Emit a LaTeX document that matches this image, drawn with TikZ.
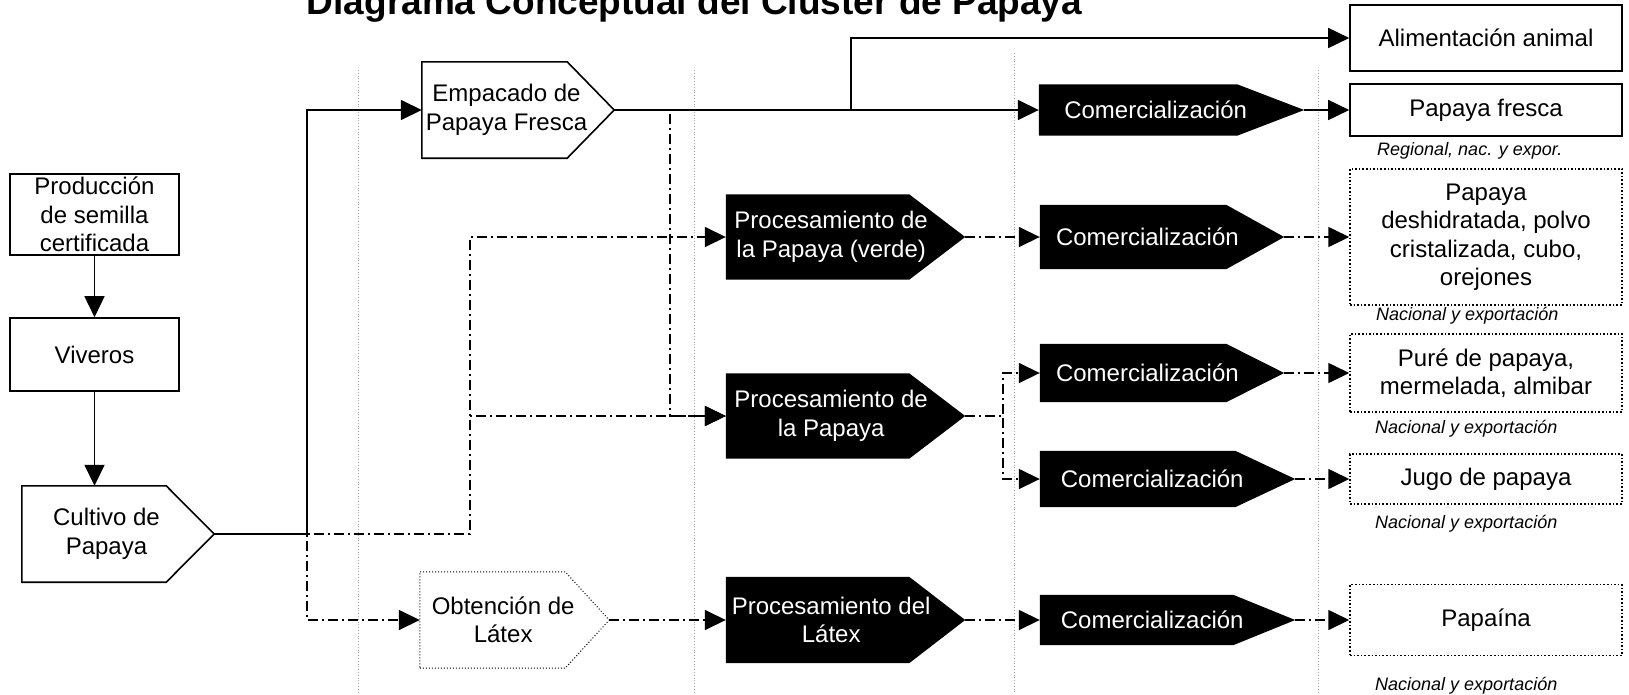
\documentclass[tikz,border=0pt]{standalone}
\usepackage{fontspec}
\setmainfont{Liberation Sans}
\usetikzlibrary{arrows.meta, backgrounds}

\begin{document}
\begin{tikzpicture}[
    x=1pt, y=-1pt,
    font=\fontsize{24}{28.5}\selectfont,
    texto/.style={align=center, inner sep=0pt},
    caja/.style={draw, line width=1.6pt, fill=white, align=center, inner sep=0pt},
    cajap/.style={caja, dotted, line width=1.5pt},
    flecha/.style n args={3}{minimum width=#1, minimum height=#2, inner sep=0pt,
                  label={[texto, xshift={-0.06*#1}]center:{#3}}},
    flechan/.style n args={3}{minimum width=#1, minimum height=#2, inner sep=0pt,
                  label={[texto, text=white, xshift={-0.06*#1}]center:{#3}}},
    blanca/.style={draw, line width=1.6pt, fill=white},
    punteada/.style={draw, dotted, line width=1pt, fill=white},
    negra/.style={fill=black},
    nota/.style={font=\fontsize{18}{20}\selectfont\itshape, anchor=base west, inner sep=0pt},
    carril/.style={dotted, gray!70, line width=0.8pt},
    flujo/.style={-{Triangle[length=21pt, width=20pt]}, line width=1.6pt},
    flujod/.style={flujo, dash pattern=on 10pt off 4pt on 2pt off 4pt}
  ]
    \useasboundingbox (0,0) rectangle (1629,694);

    \node[font=\fontsize{37}{40}\selectfont\bfseries, anchor=base] (titulo) at (694.5,14)
      {Diagrama Conceptual del Cluster de Papaya};

    % carriles
    \foreach \x/\y in {358/70, 694/70, 1014/53, 1318/70}
      \draw[carril] (\x,\y) -- (\x,694);

    % columna izquierda
    \node[caja, minimum width=169, minimum height=81] (prod) at (94.5,214.5)
      {Producción\\de semilla\\certificada};
    \node[caja, minimum width=169, minimum height=73] (viv) at (94.5,354.5) {Viveros};
    \node[flecha={192}{96}{Cultivo de\\Papaya}] (cult) at (118,534) {};

    \node[flecha={192}{96}{Empacado de\\Papaya Fresca}] (emp) at (518,110) {};
    \node[flecha={189}{96}{Obtención de\\Látex}] (obt) at (514.5,620) {};

    \node[flechan={239}{85}{Procesamiento de\\la Papaya (verde)}] (pv) at (845.5,237) {};
    \node[flechan={239}{85}{Procesamiento de\\la Papaya}] (pp) at (845.5,416) {};
    \node[flechan={239}{86}{Procesamiento del\\Látex}] (pl) at (845.5,620) {};

    \node[flechan={265}{51}{Comercialización}] (c1) at (1171.5,110) {};
    \node[flechan={244}{64}{Comercialización}] (c2) at (1162,237) {};
    \node[flechan={244}{58}{Comercialización}] (c3) at (1162,373) {};
    \node[flechan={255}{56}{Comercialización}] (c4) at (1167.5,479) {};
    \node[flechan={255}{50}{Comercialización}] (c5) at (1167.5,620) {};

    % productos
    \node[caja, minimum width=272, minimum height=66] (ali) at (1486,38) {Alimentación animal};
    \node[caja, minimum width=272, minimum height=52] (pf) at (1486,110) {Papaya fresca};
    \node[cajap, minimum width=272, minimum height=136] (des) at (1486,237)
      {Papaya\\deshidratada, polvo\\cristalizada, cubo,\\orejones};
    \node[cajap, minimum width=272, minimum height=78] (pure) at (1486,373)
      {Puré de papaya,\\mermelada, almibar};
    \node[cajap, minimum width=272, minimum height=50] (jugo) at (1486,479) {Jugo de papaya};
    \node[cajap, minimum width=272, minimum height=71] (pap) at (1486,620) {Papaína};

    \node[nota] (n1) at (1377,155) {Regional, nac. y expor.};
    \node[nota] (n2) at (1376,320) {Nacional y exportación};
    \node[nota] (n3) at (1375,433) {Nacional y exportación};
    \node[nota] (n4) at (1375,528) {Nacional y exportación};
    \node[nota] (n5) at (1375,690) {Nacional y exportación};

    \begin{scope}[on background layer]
      \foreach \n/\p/\s in {cult/48/blanca, emp/47/blanca, obt/44/punteada,
                            pv/56/negra, pp/56/negra, pl/56/negra, c1/67/negra,
                            c2/58/negra, c3/58/negra, c4/60/negra, c5/62/negra}
        \path[\s] (\n.south west) -- ([xshift=-\p]\n.south east) -- (\n.east)
                  -- ([xshift=-\p]\n.north east) -- (\n.north west) -- cycle;
    \end{scope}

    % bifurcaciones
    \coordinate (j1) at (307,0);
    \coordinate (j2) at (470,0);
    \coordinate (j3) at (670,0);
    \coordinate (j4) at (851,0);
    \coordinate (j5) at (1003,0);

    \draw[flujo] (prod.south) -- (viv.north);
    \draw[flujo] (viv.south) -- (viv.south |- cult.north);
    \draw[flujo] (cult.east) -| (j1 |- emp.west) -- (emp.west);
    \draw[flujo] (emp.east) -- (c1.west);
    \draw[flujo] (emp.east) -| (j4 |- ali.west) -- (ali.west);
    \draw[flujo] (c1.east) -- (pf.west);

    \draw[flujod] (cult.east) -| (j2 |- pv.west) -- (pv.west);
    \draw[flujod] (cult.east) -| (j2 |- pp.west) -- (pp.west);
    \draw[flujod] (cult.east) -| (j1 |- obt.west) -- (obt.west);
    \draw[flujod] (emp.east) -| (j3 |- pp.west) -- (pp.west);
    \draw[flujod] (pv.east) -- (c2.west);
    \draw[flujod] (c2.east) -- (des.west);
    \draw[flujod] (pp.east) -| (j5 |- c3.west) -- (c3.west);
    \draw[flujod] (pp.east) -| (j5 |- c4.west) -- (c4.west);
    \draw[flujod] (c3.east) -- (pure.west);
    \draw[flujod] (c4.east) -- (jugo.west);
    \draw[flujod] (obt.east) -- (pl.west);
    \draw[flujod] (pl.east) -- (c5.west);
    \draw[flujod] (c5.east) -- (pap.west);
  \end{tikzpicture}
\end{document}
